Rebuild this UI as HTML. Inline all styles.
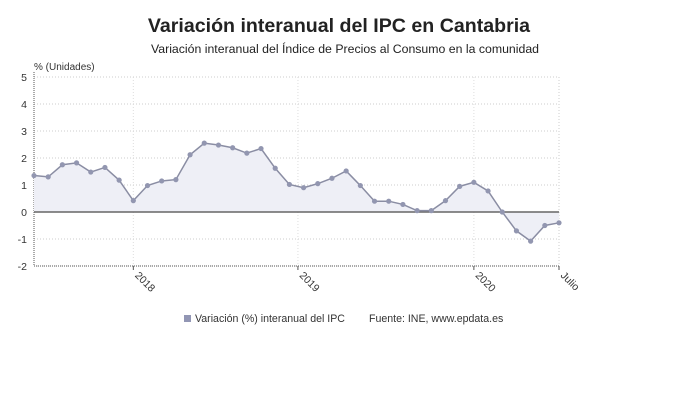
<!DOCTYPE html>
<html><head><meta charset="utf-8"><style>
body{margin:0;background:#fff;width:690px;height:406px;overflow:hidden;font-family:"Liberation Sans","DejaVu Sans",sans-serif}
</style></head><body>
<svg width="690" height="406">
<text x="339" y="32" text-anchor="middle" font-size="19.6" font-weight="bold" fill="#222">Variación interanual del IPC en Cantabria</text>
<text x="345" y="53" text-anchor="middle" font-size="12.3" fill="#222">Variación interanual del Índice de Precios al Consumo en la comunidad</text>
<text x="34" y="70" font-size="10" fill="#333">% (Unidades)</text>
<g id="grid"></g>
<g id="plot"></g>
<g id="legend">
<rect x="184" y="315" width="7" height="7" fill="#9296b4"/>
<text x="195" y="322" font-size="10.6" fill="#333">Variación (%) interanual del IPC</text>
<text x="369" y="322" font-size="10.6" fill="#333">Fuente: INE, www.epdata.es</text>
</g>
</svg>
<script>
const values=[1.35,1.3,1.75,1.82,1.48,1.65,1.18,0.42,0.98,1.15,1.2,2.12,2.55,2.48,2.38,2.18,2.35,1.62,1.02,0.9,1.05,1.25,1.52,0.98,0.4,0.4,0.28,0.05,0.05,0.42,0.95,1.1,0.78,0.0,-0.7,-1.08,-0.5,-0.4];
const yTicks=[-2,-1,0,1,2,3,4,5];
const xTickLabels=["2018","2019","2020","Julio"];
const xTickIdx=[7,18.6,31,37];
const NS="http://www.w3.org/2000/svg";
const x0=34,x1=559,yTop=77,yBot=266;
const X=i=>x0+i*(x1-x0)/(values.length-1);
const Y=v=>yBot-(v+2)*(yBot-yTop)/7;
function mk(t,a,p){const e=document.createElementNS(NS,t);for(const k in a)e.setAttribute(k,a[k]);p.appendChild(e);return e;}
const grid=document.getElementById('grid'),plot=document.getElementById('plot');
yTicks.forEach(v=>{
 const l=mk('line',{x1:x0,x2:x1,y1:Y(v),y2:Y(v),stroke:'#ccc','stroke-dasharray':'1,2'},grid);
 
 
 const t=mk('text',{x:27,y:Y(v)+4,'text-anchor':'end','font-size':10.5,fill:'#333'},grid);
 t.textContent=v;
 
 
});
mk('line',{x1:x1,x2:x1,y1:yTop,y2:yBot,stroke:'#ccc','stroke-dasharray':'1,2'},grid);
xTickIdx.forEach((ix,k)=>{
 const x=X(ix);
 if(k<3){const g=mk('line',{x1:x,x2:x,y1:yTop,y2:yBot,stroke:'#ddd','stroke-dasharray':'1,2'},grid);
 
 }
 mk('line',{x1:x,x2:x,y1:yBot,y2:yBot+4,stroke:'#555'},grid);
 const t=mk('text',{x:x+1,y:yBot+10,'font-size':10.5,fill:'#333',transform:`rotate(45 ${x+1} ${yBot+10})`},grid);
 t.textContent=xTickLabels[k];
 
 
});
mk('line',{x1:x0,x2:x0,y1:yTop-5,y2:yBot,stroke:'#555','stroke-dasharray':'1,1'},grid);
mk('line',{x1:x0,x2:x1,y1:yBot,y2:yBot,stroke:'#555','stroke-dasharray':'1,1'},grid);
let pts=values.map((v,i)=>X(i)+','+Y(v)).join(' ');
const area=mk('polygon',{points:X(0)+','+Y(0)+' '+pts+' '+X(values.length-1)+','+Y(0),fill:'#eeeff6'},plot);


const zl=mk('line',{x1:x0,x2:x1,y1:Y(0),y2:Y(0),stroke:'#666','stroke-width':1.5},plot);


const line=mk('polyline',{points:pts,fill:'none',stroke:'#8a8da3','stroke-width':1.5},plot);


values.forEach((v,i)=>{
 const c=mk('circle',{cx:X(i),cy:Y(v),r:2.6,fill:'#9296b0'},plot);
 
 
});
</script>
</body></html>
